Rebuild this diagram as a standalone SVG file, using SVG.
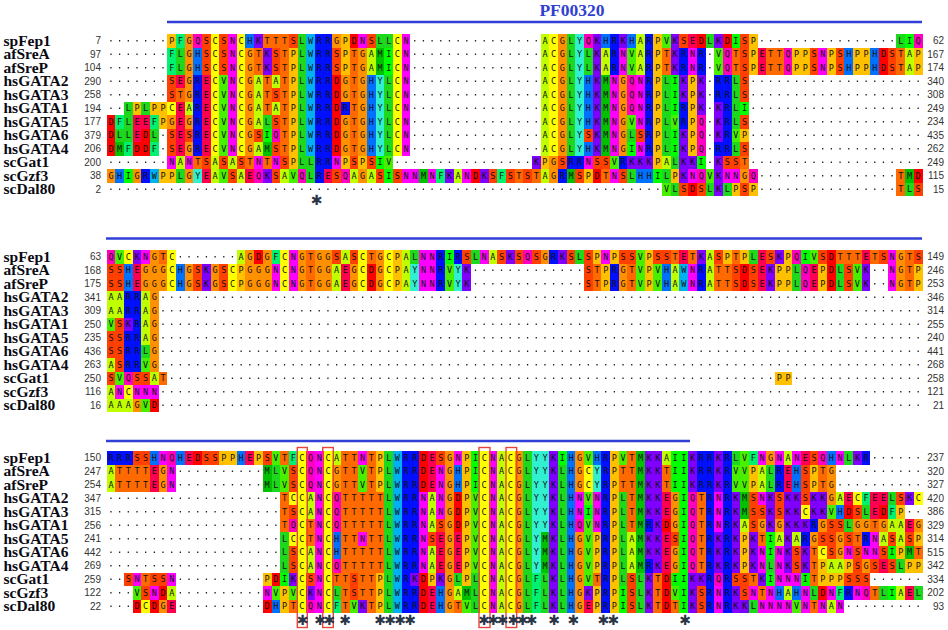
<svg xmlns="http://www.w3.org/2000/svg" width="948" height="630" viewBox="0 0 948 630">
<style>
.lb{font:bold 15.5px "Liberation Serif","Times New Roman",serif;fill:#0a0a14}
.nm{font:10px "Liberation Sans",Arial,sans-serif;fill:#333;text-anchor:end}
.sq{font:8.5px "DejaVu Sans Mono",monospace;fill:#111;letter-spacing:3.563px}
.dt{fill:none;stroke:#222;stroke-width:1.3;stroke-dasharray:1.3 7.38}
.cl path{fill:none;stroke-width:1}
.A{stroke:#BFFF00}.C{stroke:#FFFF00}.D{stroke:#FF0000}.E{stroke:#FF0050}.F{stroke:#00F070}
.G{stroke:#FF9000}.H{stroke:#0070FF}.I{stroke:#00FF00}.K{stroke:#7F00FF}.L{stroke:#1ED81E}
.M{stroke:#00C000}.N{stroke:#FF00FF}.P{stroke:#FFC000}.Q{stroke:#FF00C0}.R{stroke:#0010FF}
.S{stroke:#FF4000}.T{stroke:#FF6A00}.V{stroke:#48F000}.W{stroke:#00B0F0}.Y{stroke:#30F0D0}
.bar{stroke:#2F3FD8;stroke-width:2.6}
.box{fill:none;stroke:#E8453C;stroke-width:1.4}
.ast{font:bold 14px "DejaVu Sans",sans-serif;fill:#2a3548;text-anchor:middle}
.ttl{font:bold 17.5px "Liberation Serif","Times New Roman",serif;fill:#3040D0;text-anchor:middle}
</style>
<rect width="948" height="630" fill="#fff"/>
<text class="ttl" x="572" y="15.6">PF00320</text>

<g id="block1">
<line class="bar" x1="167" y1="22" x2="922" y2="22"/>
<path class="dt" transform="translate(106.6 40.75)" d="M3.69 0h812M3.69 13.5h812M3.69 27h812M3.69 40.5h812M3.69 54h812M3.69 67.5h812M3.69 81h812M3.69 94.5h812M3.69 108h812M3.69 121.5h812M3.69 135h812M3.69 148.5h812"/>
<g class="cl" transform="translate(106.6 40.75) scale(8.68 13.5)" shape-rendering="crispEdges">
<path class="A" d="M50.5-.5V8.5M17.5 2.5V6.5M61 0h1M30 1h1M57 1h1M61 1h1M92 1h1M30 2h1M57 2h1M61 2h1M92 2h1M19 3h1M9 5h1M19 5h1M17 8h1M8 9h1M12 9h1M14 9h1M64 9h1M12 10h1M15 10h1M20 10h1M28 10h1M30 10h1M40 10h1M50 10h1"/>
<path class="C" d="M12.5-.5V8.5M15.5-.5V8.5M33.5-.5V8.5M51.5-.5V8.5M7 5h1"/>
<path class="D" d="M28 0h1M68 0h1M71 0h1M89 1h1M89 2h1M26.5 2.5V8.5M.5 5.5V8.5M4 7h1M3 8h2M42 10h1M56 10h1M93 10h1M67 11h1"/>
<path class="E" d="M67 0h1M75 1h1M75 2h1M11.5 2.5V8.5M8 3h1M8.5 4.5V8.5M3 6h2M3 7h1M11 10h1M16 10h1M25 10h1"/>
<path class="F" d="M8 0h1M7 1h1M7 2h1M1 6h1M5 6h1M2 8h1M5 8h1M38 10h1M45 10h1"/>
<path class="G" d="M52.5-.5V8.5M16.5 .5V8.5M29.5 .5V8.5M59.5 2.5V8.5M9.5-.5V4.5M26 0h1M27 3h1M27 4h1M27.5 5.5V8.5M7 6h1M9 6h1M9 8h1M51 9h1M0 10h1M3 10h1M9 10h1M29 10h1M51 10h1M73 10h1"/>
<path class="H" d="M16 0h1M57 0h1M60 0h1M10 1h1M85 1h1M88 1h1M10 2h1M85 2h1M88 2h1M30.5 2.5V8.5M55.5 2.5V6.5M55 8h1M1 10h1M61 10h2"/>
<path class="I" d="M72 0h1M92 0h1M32 1h1M32 2h1M65.5 2.5V5.5M65.5 6.5V8.5M73 5h1M18 7h1M60 8h1M31 9h1M68 9h1M2 10h1M32 10h1M63 10h1"/>
<path class="K" d="M56.5-.5V8.5M17 0h1M59 0h1M65 0h1M70 0h1M18 1h1M65 1h1M18 2h1M65 2h1M66 3h1M68 3h1M66 4h1M68 4h1M68 5h1M70.5 4.5V7.5M66 7h1M66 8h1M49 9h1M60 9h3M66 9h2M70.5 8.5V11.5M18 10h1M39 10h1M43 10h1M66 10h1"/>
<path class="L" d="M22.5-.5V9.5M53.5-.5V8.5M32.5 2.5V8.5M64.5 2.5V8.5M72.5 2.5V6.5M31 0h2M69 0h1M91 0h1M8 1h1M55 1h1M8 2h1M55 2h1M2 5h1M4 5h1M2 6h1M18 6h1M1 7h2M5 7h1M60 7h1M72 8h1M23 9h1M65 9h1M8 10h1M23 10h1M60 10h1M64 10h1M65 11h1M69 11h1M71 11h1M92 11h1"/>
<path class="M" d="M31 1h1M31 2h1M57.5 2.5V8.5M1 8h1M18 8h1M36 10h1M53 10h1M92 10h1"/>
<path class="N" d="M14.5-.5V8.5M34.5-.5V8.5M58.5 2.5V8.5M61.5 2.5V6.5M61 8h1M29 0h1M59 1h1M67 1h1M82 1h1M59 2h1M67 2h1M82 2h1M7 9h1M9 9h1M17 9h1M19 9h1M26 9h1M55 9h1M34 10h2M37 10h1M41 10h1M58 10h1M67 10h1M71 10h2"/>
<path class="P" d="M63.5-.5V9.5M21.5 .5V9.5M67.5 2.5V8.5M7 0h1M27 0h1M74 0h1M27 1h1M74 1h1M79 1h2M83 1h1M86 1h2M93 1h1M27 2h1M74 2h1M79 2h2M83 2h1M86 2h2M93 2h1M3 5h1M5 5h2M6 6h1M73 7h1M27 9h1M29 9h1M50 9h1M6 10h2M55 10h1M65 10h1M72 11h1M74 11h1"/>
<path class="Q" d="M10 0h1M55 0h1M93 0h1M71 1h1M78 1h1M71 2h1M78 2h1M60.5 2.5V5.5M68.5 5.5V8.5M19 7h1M17 10h1M22 10h1M27 10h1M68 10h1M74 10h1"/>
<path class="R" d="M24.5-.5V10.5M25.5-.5V9.5M62.5-.5V8.5M58.5-.5V2.5M10.5 2.5V8.5M71.5 2.5V8.5M66 1h1M68 1h1M66 2h1M68 2h1M70 3h1M70 4h1M27 5h1M66 5h1M66 6h1M70 8h1M53 9h2M59 9h1M4 10h1M52 10h1"/>
<path class="S" d="M73.5-.5V4.5M11 0h1M13 0h1M21 0h1M30 0h1M66 0h1M11 1h1M13 1h1M19 1h1M26 1h1M81 1h1M84 1h1M90 1h1M11 2h1M13 2h1M19 2h1M26 2h1M81 2h1M84 2h1M90 2h1M7 3h1M7 4h1M19 4h1M19 6h1M73 6h1M7 7h1M9 7h1M17 7h1M55 7h1M61 7h1M7 8h1M19 8h1M73 8h1M11 9h1M13 9h1M15 9h1M20 9h1M28 9h1M30 9h1M52 9h1M56 9h2M71 9h2M14 10h1M19 10h1M26 10h1M31 10h1M33 10h1M44 10h1M46 10h1M48 10h1M54 10h1M59 10h1M66 11h1M68 11h1M73 11h1M93 11h1"/>
<path class="T" d="M20.5-.5V8.5M28.5 .5V8.5M18.5 2.5V5.5M18 0h2M17 1h1M64 1h1M72 1h1M76 1h2M91 1h1M17 2h1M64 2h1M72 2h1M76 2h2M91 2h1M8 4h1M10 9h1M16 9h1M18 9h1M73 9h1M47 10h1M49 10h1M57 10h1M91 10h1M91 11h1"/>
<path class="V" d="M64 0h1M60 1h1M70 1h1M60 2h1M70 2h1M13.5 2.5V8.5M60 6h1M65 6h1M72 7h1M32 9h1M58 9h1M13 10h1M21 10h1M69 10h1M64 11h1"/>
<path class="W" d="M23.5-.5V8.5M5 10h1"/>
<path class="Y" d="M54.5-.5V8.5M31.5 2.5V8.5M10 10h1"/>
</g>
<g class="sq" transform="translate(108.38 43.95)">
<text x="60.76" y="0">PFGQSCSNCHKTTTSLWRRGPDNSLLCN</text><text x="434" y="0">ACGLYQKHRKHARPVKSEDLKDISP</text><text x="789.88" y="0">LIQ</text>
<text x="60.76" y="13.5">FLGHSCSNCGTKSTPLWRRSPTGAMICN</text><text x="434" y="13.5">ACGLYLKARNVARPTKRNR</text><text x="607.6" y="13.5">VQTSPETTQPPSNPSHPPHDSTAP</text>
<text x="60.76" y="27">FLGHSCSNCGTKSTPLWRRSPTGAMICN</text><text x="434" y="27">ACGLYLKARNVARPTKRNR</text><text x="607.6" y="27">VQTSPETTQPPSNPSHPPHDSTAP</text>
<text x="60.76" y="40.5">SEGRECVNCGATATPLWRRDGTGHYLCN</text><text x="434" y="40.5">ACGLYHKMNGQNRPLIKPK</text><text x="607.6" y="40.5">RRLS</text>
<text x="60.76" y="54">STGRECVNCGATSTPLWRRDGTGHYLCN</text><text x="434" y="54">ACGLYHKMNGQNRPLIKPK</text><text x="607.6" y="54">RRLS</text>
<text x="17.36" y="67.5">LPLPPCEARECVNCGATATPLWRRDRTGHYLCN</text><text x="434" y="67.5">ACGLYHKMNGQNRPLIRPK</text><text x="607.6" y="67.5">KRLI</text>
<text x="0" y="81">DFLEEFPGEGRECVNCGALSTPLWRRDGTGHYLCN</text><text x="434" y="81">ACGLYHKMNGVNRPLVRPQ</text><text x="607.6" y="81">KRLS</text>
<text x="0" y="94.5">DLLEDL</text><text x="60.76" y="94.5">SESRECVNCGSIQTPLWRRDGTGHYLCN</text><text x="434" y="94.5">ACGLYSKMNGLSRPLIKPQ</text><text x="607.6" y="94.5">KRVP</text>
<text x="0" y="108">DMFDDF</text><text x="60.76" y="108">SEGRECVNCGAMSTPLWRRDGTGHYLCN</text><text x="434" y="108">ACGLYHKMNGINRPLIKPQ</text><text x="607.6" y="108">RRLS</text>
<text x="60.76" y="121.5">NANTSASASTNTNSPLLRRNPSPSIV</text><text x="425.32" y="121.5">KPGSRRNSSVRKKKPALKKI</text><text x="607.6" y="121.5">KSST</text>
<text x="0" y="135">GHIGRWPPLGYEAVSAEQKSAVQLRESQAGASISNNMNFKANDKSFSTSTAGRMSPDTNSLHHILPKNQVKNNGQ</text><text x="789.88" y="135">TMD</text>
<text x="555.52" y="148.5">VLSDSLKLPSP</text><text x="789.88" y="148.5">TLS</text>
</g>
<g class="lb" transform="translate(3.5 45.75)">
<text y="0">spFep1</text><text y="13.5">afSreA</text><text y="27">afSreP</text><text y="40.5">hsGATA2</text><text y="54">hsGATA3</text><text y="67.5">hsGATA1</text><text y="81">hsGATA5</text><text y="94.5">hsGATA6</text><text y="108">hsGATA4</text><text y="121.5">scGat1</text><text y="135">scGzf3</text><text y="148.5">scDal80</text>
</g>
<g class="nm" transform="translate(101 44.35)">
<text y="0">7</text><text y="13.5">97</text><text y="27">104</text><text y="40.5">290</text><text y="54">258</text><text y="67.5">194</text><text y="81">177</text><text y="94.5">379</text><text y="108">206</text><text y="121.5">200</text><text y="135">38</text><text y="148.5">2</text>
</g>
<g class="nm" transform="translate(944 44.35)">
<text y="0">62</text><text y="13.5">167</text><text y="27">174</text><text y="40.5">340</text><text y="54">308</text><text y="67.5">249</text><text y="81">234</text><text y="94.5">435</text><text y="108">262</text><text y="121.5">249</text><text y="135">115</text><text y="148.5">15</text>
</g>
<text class="ast" x="316.5" y="204.5">✱</text>
</g>

<g id="block2">
<line class="bar" x1="106" y1="238.5" x2="922" y2="238.5"/>
<path class="dt" transform="translate(106.6 256.75)" d="M3.69 0h812M3.69 13.5h812M3.69 27h812M3.69 40.5h812M3.69 54h812M3.69 67.5h812M3.69 81h812M3.69 94.5h812M3.69 108h812M3.69 121.5h812M3.69 135h812M3.69 148.5h812"/>
<g class="cl" transform="translate(106.6 256.75) scale(8.68 13.5)" shape-rendering="crispEdges">
<path class="A" d="M34.5-.5V2.5M69.5-.5V2.5M15 0h1M27 0h1M44 0h1M26 1h1M65 1h1M26 2h1M65 2h1M0 3h2M0 4h2M4.5 2.5V6.5M0 8h1M5 9h1M0 10h1M0 11h3"/>
<path class="C" d="M7.5-.5V2.5M20.5-.5V2.5M29.5-.5V2.5M32.5-.5V2.5M2 0h1M14 1h1M14 2h1M2 10h1"/>
<path class="D" d="M83.5-.5V2.5M17 0h1M30 1h1M73 1h1M30 2h1M73 2h1M5 11h1"/>
<path class="E" d="M75.5-.5V2.5M66 0h1M87 0h1M3 1h1M27 1h1M81 1h1M3 2h1M27 2h1M81 2h1"/>
<path class="F" d="M19 0h1"/>
<path class="G" d="M5.5-.5V8.5M16.5-.5V2.5M18.5-.5V2.5M22.5-.5V2.5M24.5-.5V2.5M25.5-.5V2.5M31.5-.5V2.5M91.5-.5V2.5M50 0h1M4 1h1M6 1h1M9 1h1M12 1h1M17 1h1M28 1h1M59 1h1M4 2h1M6 2h1M9 2h1M12 2h1M17 2h1M28 2h1M59 2h1M3 11h1"/>
<path class="H" d="M2 1h1M8 1h1M64 1h1M2 2h1M8 2h1M64 2h1"/>
<path class="I" d="M39 0h1M80 0h1"/>
<path class="K" d="M3 0h1M46 0h1M52 0h1M68 0h1M77 0h1M11 1h1M41 1h1M76 1h1M87 1h1M11 2h1M41 2h1M76 2h1M87 2h1M2 5h1"/>
<path class="L" d="M35 0h1M42 0h1M54 0h1M74 0h1M79 1h1M84 1h1M79 2h1M84 2h1M4 7h1"/>
<path class="N" d="M21.5-.5V2.5M36.5-.5V2.5M37.5-.5V2.5M90.5-.5V2.5M4 0h1M43 0h1M57 0h1M19 1h1M67 1h1M19 2h1M67 2h1M1 10h1M3 10h3"/>
<path class="P" d="M33.5-.5V2.5M62.5-.5V2.5M78.5-.5V2.5M56 0h1M58 0h1M71 0h1M73 0h1M15 1h1M57 1h1M77 1h1M82 1h1M93 1h1M15 2h1M57 2h1M77 2h1M82 2h1M93 2h1M77 9h2"/>
<path class="Q" d="M0 0h1M48 0h1M79 0h1M80 1h1M80 2h1M2 9h1"/>
<path class="R" d="M38.5-.5V2.5M3.5 2.5V8.5M2.5 2.5V4.5M2.5 5.5V8.5M40 0h1M51 0h1M58 1h1M68 1h1M58 2h1M68 2h1"/>
<path class="S" d="M55.5-.5V2.5M1.5 4.5V8.5M26 0h1M28 0h1M41 0h1M45 0h1M47 0h1M49 0h1M53 0h1M59 0h2M63 0h2M70 0h1M76 0h1M82 0h1M89 0h1M93 0h1M0 1h2M10 1h1M13 1h1M72 1h1M74 1h1M85 1h1M0 2h2M10 2h1M13 2h1M72 2h1M74 2h1M85 2h1M0 6h1M0 7h1M0 9h1M3 9h2"/>
<path class="T" d="M23.5-.5V2.5M92.5-.5V2.5M6 0h1M30 0h1M65 0h1M67 0h1M72 0h1M84 0h3M88 0h1M56 1h1M60 1h1M70 1h2M56 2h1M60 2h1M70 2h2M6 9h1"/>
<path class="V" d="M61.5-.5V2.5M1 0h1M81 0h1M39 1h1M63 1h1M86 1h1M39 2h1M63 2h1M86 2h1M0 5h1M4 8h1M1 9h1M4 11h1"/>
<path class="W" d="M66.5 .5V2.5"/>
<path class="Y" d="M35.5 .5V2.5M40.5 .5V2.5"/>
</g>
<g class="sq" transform="translate(108.38 259.95)">
<text x="0" y="0">QVCKNGTC</text><text x="130.2" y="0">AGDGFCNGTGGSASCTGCPALNNRIRSLNASKSQSGRKSLSPNPSSVPSSTETKASPTPLESKPQIVSDTTTETSNGTS</text>
<text x="0" y="13.5">SSHEGGGCHGSKGSCPGGGNCNGTGGAEGCDGCPAYNNRVYK</text><text x="477.4" y="13.5">STPRGTVPVHAWNRATTSDSEKPPLQEPDLSVK</text><text x="781.2" y="13.5">NGTP</text>
<text x="0" y="27">SSHEGGGCHGSKGSCPGGGNCNGTGGAEGCDGCPAYNNRVYK</text><text x="477.4" y="27">STPRGTVPVHAWNRATTSDSEKPPLQEPDLSVK</text><text x="781.2" y="27">NGTP</text>
<text x="0" y="40.5">AARRAG</text><text x="0" y="54">AARRAG</text><text x="0" y="67.5">VSKRAG</text><text x="0" y="81">SSRRAG</text><text x="0" y="94.5">SSRRLG</text><text x="0" y="108">ASRRVG</text>
<text x="0" y="121.5">SVQSSAT</text><text x="668.36" y="121.5">PP</text>
<text x="0" y="135">ANCNNN</text><text x="0" y="148.5">AAAGVD</text>
</g>
<g class="lb" transform="translate(3.5 261.75)">
<text y="0">spFep1</text><text y="13.5">afSreA</text><text y="27">afSreP</text><text y="40.5">hsGATA2</text><text y="54">hsGATA3</text><text y="67.5">hsGATA1</text><text y="81">hsGATA5</text><text y="94.5">hsGATA6</text><text y="108">hsGATA4</text><text y="121.5">scGat1</text><text y="135">scGzf3</text><text y="148.5">scDal80</text>
</g>
<g class="nm" transform="translate(101 260.35)">
<text y="0">63</text><text y="13.5">168</text><text y="27">175</text><text y="40.5">341</text><text y="54">309</text><text y="67.5">250</text><text y="81">235</text><text y="94.5">436</text><text y="108">263</text><text y="121.5">250</text><text y="135">116</text><text y="148.5">16</text>
</g>
<g class="nm" transform="translate(944 260.35)">
<text y="0">149</text><text y="13.5">246</text><text y="27">253</text><text y="40.5">346</text><text y="54">314</text><text y="67.5">255</text><text y="81">240</text><text y="94.5">441</text><text y="108">268</text><text y="121.5">258</text><text y="135">121</text><text y="148.5">21</text>
</g>
</g>

<g id="block3">
<line class="bar" x1="106" y1="441" x2="690" y2="441"/>
<path class="dt" transform="translate(106.6 457.75)" d="M3.69 0h812M3.69 13.5h812M3.69 27h812M3.69 40.5h812M3.69 54h812M3.69 67.5h812M3.69 81h812M3.69 94.5h812M3.69 108h812M3.69 121.5h812M3.69 135h812M3.69 148.5h812"/>
<g class="cl" transform="translate(106.6 457.75) scale(8.68 13.5)" shape-rendering="crispEdges">
<path class="A" d="M45.5-.5V11.5M60.5 5.5V8.5M37.5 2.5V5.5M37.5 6.5V8.5M23.5 2.5V4.5M23.5 6.5V8.5M26 0h1M64 0h1M78 0h1M0 1h1M75 1h1M0 2h1M75 2h1M84 3h1M73 5h1M90 5h2M77 6h1M79 6h1M89 6h1M91 6h1M83 8h2M7 10h1M40 10h1M78 10h1M91 10h1M83 11h1"/>
<path class="C" d="M22.5-.5V11.5M25.5-.5V11.5M43.5-.5V11.5M46.5-.5V11.5M55 1h1M55 2h1M21 3h1M86 3h1M93 3h1M80 4h1M21 6h1M82 7h1M4 11h1"/>
<path class="D" d="M36.5-.5V2.5M36.5 8.5V11.5M40.5 2.5V5.5M64.5 8.5V11.5M10 0h1M85 4h1M89 4h1M64 5h1M19 9h1M6 10h1M82 10h1M3 11h1M5 11h1M18 11h1"/>
<path class="E" d="M37.5-.5V2.5M37.5 9.5V11.5M64.5 2.5V4.5M64.5 5.5V8.5M38.5 5.5V8.5M40.5 5.5V8.5M9 0h1M16 0h1M80 0h1M5 1h1M78 1h1M5 2h1M78 2h1M85 3h1M88 3h2M88 4h1M92 5h1M89 8h1M92 10h1M7 11h1M55 11h1"/>
<path class="F" d="M49.5 8.5V11.5M21 0h1M74 0h1M87 3h1M90 4h1M84 10h1M26 11h1"/>
<path class="G" d="M39.5-.5V11.5M47.5-.5V11.5M54.5-.5V2.5M54.5 5.5V11.5M65.5 2.5V5.5M65.5 6.5V8.5M76 0h1M6 1h1M26 1h1M83 1h1M6 2h1M26 2h1M83 2h1M83 3h1M75 5h1M77 5h1M82 5h1M86 5h2M89 5h1M93 5h1M81 6h1M84 6h1M84 7h1M87 8h1M6 11h1"/>
<path class="H" d="M53.5-.5V11.5M5 0h1M8 0h1M15 0h1M56 0h1M83 0h1M40 1h1M79 1h1M40 2h1M79 2h1M84 4h1M26.5 5.5V7.5M38.5 9.5V11.5M77 10h1M79 10h1M19 11h1"/>
<path class="I" d="M66.5-.5V11.5M42.5-.5V2.5M65.5-.5V2.5M52 0h1M55 4h1M76 6h1M76 7h1M90 7h1M20 9h1M65 9h1M76 9h1M80 9h1M59.5 9.5V11.5M90 10h1"/>
<path class="K" d="M51.5-.5V11.5M62.5-.5V4.5M62.5 5.5V7.5M62.5 8.5V11.5M63.5-.5V8.5M67.5-.5V2.5M67.5 8.5V11.5M70.5-.5V2.5M70.5 5.5V8.5M72.5 2.5V8.5M72.5 9.5V11.5M74.5 5.5V8.5M78.5 2.5V8.5M76.5 2.5V5.5M79.5 2.5V5.5M86 0h1M81 3h2M92 3h1M81 4h2M80 5h1M80 7h1M80 8h1M21 9h1M35 9h1M38 9h1M68 9h1M75 9h1M23 10h1M55 10h1M29 11h1M73 11h1"/>
<path class="L" d="M32.5-.5V11.5M48.5-.5V11.5M52.5 .5V11.5M59.5 2.5V9.5M20.5 5.5V8.5M42.5 8.5V11.5M50.5 8.5V11.5M61.5 8.5V11.5M72 0h1M85 0h1M19 1h1M76 1h1M19 2h1M76 2h1M90 3h1M87 4h1M85 5h1M76 8h1M91 8h1M40 9h1M26 10h1M81 10h1M89 10h1M93 10h1M74 11h1"/>
<path class="M" d="M61.5-.5V8.5M50.5 5.5V8.5M73.5 2.5V4.5M18 1h1M18 2h1M92 7h1M41 10h1"/>
<path class="N" d="M24.5-.5V11.5M44.5-.5V11.5M36.5 2.5V8.5M70.5 2.5V5.5M56.5 2.5V5.5M38.5 .5V4.5M6 0h1M29 0h1M40 0h1M75 0h1M77 0h1M79 0h1M84 0h1M7 1h1M7 2h1M54 3h1M75 3h1M54 4h1M29 6h1M88 6h1M75.5 6.5V8.5M77.5 6.5V8.5M85 7h1M87 7h2M3 9h1M7 9h1M77 9h3M5 10h1M18 10h1M70 10h1M74 10h1M76 10h1M80 10h1M83 10h1M86 10h1M70 11h1M75 11h4M80 11h1M82 11h1M84 11h1"/>
<path class="P" d="M58.5-.5V11.5M41.5-.5V9.5M31.5-.5V2.5M31.5 8.5V11.5M56.5 5.5V8.5M56.5 9.5V11.5M73.5 5.5V8.5M20.5 9.5V11.5M13 0h2M17 0h1M74 1h1M81 1h1M74 2h1M81 2h1M91 4h1M93 6h1M91 7h1M82 8h1M85 8h1M92 8h2M18 9h1M37 9h1M82 9h3"/>
<path class="Q" d="M67.5 2.5V8.5M23.5-.5V2.5M26.5 2.5V5.5M7 0h1M82 0h1M21 5h1M54 5h1M26 8h1M70 9h1M87 10h1M23 11h1"/>
<path class="R" d="M34.5-.5V11.5M57.5-.5V11.5M69.5-.5V11.5M71.5-.5V11.5M35.5-.5V8.5M35.5 9.5V11.5M68.5-.5V2.5M0 0h3M87 0h1M77 1h1M77 2h1M62 5h1M81 5h1M80 6h1M87 6h1M62 8h1M85 10h1"/>
<path class="S" d="M21.5 .5V2.5M74.5 2.5V5.5M77.5 2.5V4.5M60.5 8.5V11.5M68.5 9.5V11.5M79.5 6.5V8.5M86.5 6.5V8.5M21.5 6.5V8.5M3 0h2M11 0h2M18 0h1M38 0h1M81 0h1M80 1h1M80 2h1M80 3h1M91 3h1M21 4h1M75 4h1M86 4h1M38 5h1M83 5h2M37 6h1M65 6h1M82 6h2M85 6h1M90 6h1M92 6h1M83 7h1M89 7h1M88 8h1M90 8h1M2 9h1M5 9h2M23 9h1M28 9h1M72 9h2M85 9h3M4 10h1M28 10h1M73 10h1"/>
<path class="T" d="M27.5-.5V11.5M30.5-.5V11.5M28.5-.5V8.5M29.5 2.5V5.5M29.5 6.5V10.5M31.5 2.5V8.5M60.5-.5V5.5M68.5 2.5V8.5M20.5 2.5V5.5M63.5 8.5V11.5M81.5 6.5V9.5M23.5 4.5V6.5M20 0h1M1 1h4M59 1h1M64 1h1M82 1h1M1 2h4M59 2h1M64 2h1M82 2h1M88 5h1M75 6h1M86 6h1M93 7h1M4 9h1M26 9h1M56 9h1M74 9h1M75 10h1M88 10h1M21 11h1M40 11h1M65 11h1M81 11h1"/>
<path class="V" d="M42.5 2.5V8.5M55.5 4.5V9.5M19 0h1M55 0h1M59 0h1M73 0h1M20 1h1M29 1h1M72 1h2M20 2h1M29 2h1M72 2h2M55 3h1M83 4h1M3 10h1M19 10h1M21 10h1M65 10h1M28 11h1M41 11h1M79 11h1"/>
<path class="W" d="M33.5-.5V11.5"/>
<path class="Y" d="M49.5-.5V8.5M50.5-.5V5.5M56.5 .5V2.5"/>
</g>
<g class="sq" transform="translate(108.38 460.95)">
<text x="0" y="0">RRRSSHNQHEDSSPPHEPSVTFCQNCATTNTPLWRRDESGNPICNACGLYYKIHGVHRPVTMKKAIIKRRKRLVFNGNANESQHNLKR</text>
<text x="0" y="13.5">ATTTTEGN</text><text x="156.24" y="13.5">MLVSCQNCGTTVTPLWRRDENGHPICNACGLYYKLHGCYRPTTMKKTIIKRRKRVVPALREHSPTG</text>
<text x="0" y="27">ATTTTEGN</text><text x="156.24" y="27">MLVSCQNCGTTVTPLWRRDENGHPICNACGLYYKLHGCYRPTTMKKTIIKRRKRVVPALREHSPTG</text>
<text x="173.6" y="40.5">TCCANCQTTTTTLWRRNANGDPVCNACGLYYKLHNVNRPLTMKKEGIQTRNRKMSNKSKKSKKGAECFEELSKC</text>
<text x="173.6" y="54">TSCANCQTTTTTLWRRNANGDPVCNACGLYYKLHNINRPLTMKKEGIQTRNRKMSSKSKKCKKVHDSLEDFP</text>
<text x="173.6" y="67.5">TQCTNCQTTTTTLWRRNASGDPVCNACGLYYKLHQVNRPLTMRKDGIQTRNRKASGKGKKKRGSSLGGTGAAEG</text>
<text x="173.6" y="81">LCCTNCHTTNTTLWRRNSEGEPVCNACGLYMKLHGVPRPLAMKKESIQTRKRKPKTIAKARGSSGSTRNASASP</text>
<text x="173.6" y="94.5">LSCANCHTTTTTLWRRNAEGEPVCNACGLYMKLHGVPRPLAMKKEGIQTRKRKPKNINKSKTCSGNSNNSIPMT</text>
<text x="173.6" y="108">LSCANCQTTTTTLWRRNAEGEPVCNACGLYMKLHGVPRPLAMRKEGIQTRKRKPKNLNKSKTPAAPSGSESLPP</text>
<text x="17.36" y="121.5">SNTSSN</text><text x="156.24" y="121.5">PDIKCSNCTTSTTPLWRKDPKGLPLCNACGLFLKLHGVTRPLSLKTDIIKKRQRSSTKINNNITPPPSSS</text>
<text x="26.04" y="135">VSNDA</text><text x="156.24" y="135">NVPVCKNCLTSTTPLWRRDEHGAMLCNACGLFLKLHGKPRPISLKTDVIKSRNRKSNTNHAHNLDNFRNQTLIAEL</text>
<text x="26.04" y="148.5">DCDGE</text><text x="156.24" y="148.5">DHPTCQNCFTVKTPLWRRDEHGTVLCNACGLFLKLHGEPRPISLKTDTIKSRNRKKLNNNNVNTNAN</text>
</g>
<g class="lb" transform="translate(3.5 462.75)">
<text y="0">spFep1</text><text y="13.5">afSreA</text><text y="27">afSreP</text><text y="40.5">hsGATA2</text><text y="54">hsGATA3</text><text y="67.5">hsGATA1</text><text y="81">hsGATA5</text><text y="94.5">hsGATA6</text><text y="108">hsGATA4</text><text y="121.5">scGat1</text><text y="135">scGzf3</text><text y="148.5">scDal80</text>
</g>
<g class="nm" transform="translate(101 461.35)">
<text y="0">150</text><text y="13.5">247</text><text y="27">254</text><text y="40.5">347</text><text y="54">315</text><text y="67.5">256</text><text y="81">241</text><text y="94.5">442</text><text y="108">269</text><text y="121.5">259</text><text y="135">122</text><text y="148.5">22</text>
</g>
<g class="nm" transform="translate(944 461.35)">
<text y="0">237</text><text y="13.5">320</text><text y="27">327</text><text y="40.5">420</text><text y="54">386</text><text y="67.5">329</text><text y="81">314</text><text y="94.5">515</text><text y="108">342</text><text y="121.5">334</text><text y="135">202</text><text y="148.5">93</text>
</g>
<rect class="box" x="297.3" y="447.5" width="10" height="180"/>
<rect class="box" x="322.7" y="447.5" width="10.6" height="180"/>
<rect class="box" x="479" y="447.5" width="11" height="180"/>
<rect class="box" x="506" y="447.5" width="10.7" height="180"/>
<text class="ast" x="302.7 320 329.3 345 380 390 400 410 484 493.3 502.7 513.3 522.7 531.7 554 573.3 603.3 613.3 685" y="625">✱✱✱✱✱✱✱✱✱✱✱✱✱✱✱✱✱✱✱</text>
</g>
</svg>
